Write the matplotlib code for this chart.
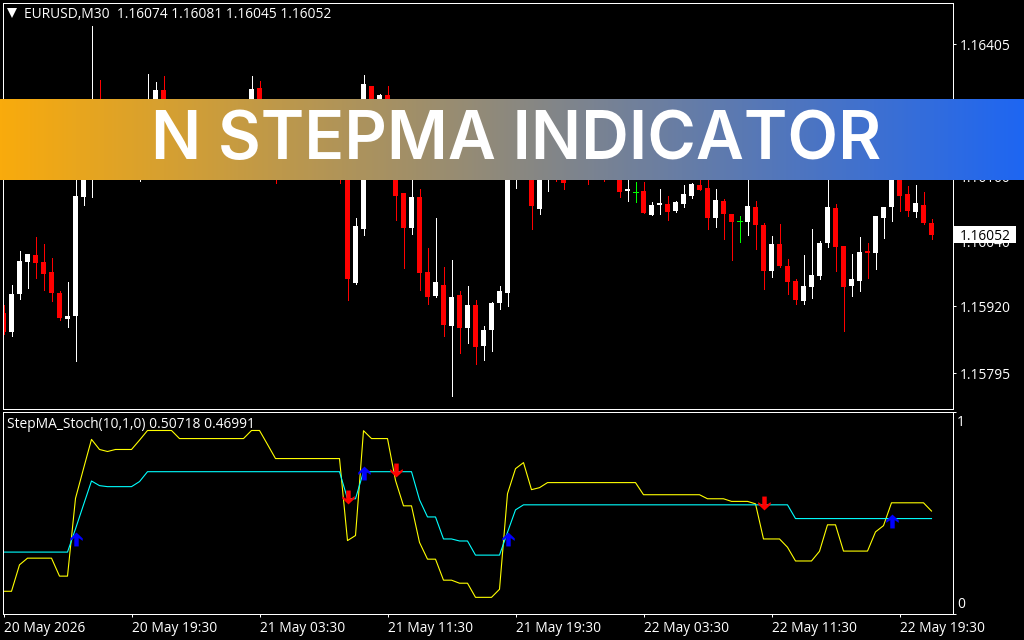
import numpy as np
import matplotlib
matplotlib.use('Agg')
import matplotlib.pyplot as plt
from matplotlib.patches import Rectangle

# bars, price in points (1.16074 = 116074)
highs = [115922, 115959, 116022, 116016, 116048, 116035, 116009, 115948, 115965, 116181,
         116228, 116439, 116339, 116287, 116274, 116265, 116283, 116298, 116350, 116335,
         116346, 116293, 116283, 116280, 116287, 116274, 116265, 116268, 116280, 116293,
         116298, 116346, 116337, 116293, 116265, 116255, 116268, 116261, 116283, 116274,
         116280, 116287, 116283, 116293, 116083, 116348, 116328, 116313, 116328, 116283,
         116129, 116209, 116137, 116028, 116083, 115992, 116005, 115948, 115957, 115931,
         115883, 115928, 115957, 116265, 116255, 116265, 116255, 116246, 116246, 116237,
         116209, 116224, 116213, 116228, 116218, 116209, 116228, 116218, 116181, 116150,
         116150, 116113, 116137, 116124, 116115, 116144, 116148, 116157, 116163, 116137,
         116118, 116091, 116087, 116172, 116115, 116074, 116050, 116072, 116007, 115970,
         116015, 116063, 116041, 116181, 116109, 116031, 116016, 116048, 116037, 116087,
         116104, 116265, 116228, 116142, 116144, 116131, 116081]
opens = [115907, 115872, 115942, 116002, 116015, 116002, 115983, 115944, 115896, 115901,
         116122, 116209, 116293, 116246, 116255, 116224, 116246, 116250, 116255, 116274,
         116320, 116268, 116228, 116243, 116261, 116218, 116213, 116246, 116228, 116243,
         116255, 116265, 116324, 116274, 116237, 116200, 116246, 116213, 116228, 116255,
         116231, 116243, 116255, 116265, 115963, 116063, 116328, 116255, 116311, 116246,
         116129, 116065, 116122, 115983, 115939, 115959, 115883, 115940, 115879, 115922,
         115846, 115876, 115926, 115944, 116172, 116209, 116228, 116100, 116181, 116218,
         116191, 116181, 116200, 116209, 116172, 116191, 116181, 116200, 116133, 116132,
         116133, 116089, 116107, 116109, 116096, 116109, 116124, 116144, 116139, 116083,
         116115, 116091, 116078, 116076, 116104, 116070, 115985, 116035, 115994, 115966,
         115929, 115955, 115976, 116037, 116102, 116031, 115957, 115966, 116022, 116018,
         116083, 116104, 116191, 116128, 116094, 116107, 116074]
closes = [115872, 115942, 116003, 116016, 116000, 115979, 115944, 115898, 115901, 116124,
          116209, 116255, 116255, 116265, 116228, 116250, 116268, 116280, 116293, 116320,
          116265, 116237, 116255, 116265, 116231, 116250, 116237, 116224, 116261, 116274,
          116283, 116322, 116268, 116237, 116181, 116231, 116209, 116237, 116265, 116218,
          116261, 116268, 116181, 115970, 116068, 116331, 116228, 116311, 116246, 116124,
          116065, 116122, 115981, 115937, 115965, 115885, 115937, 115879, 115922, 115844,
          115876, 115926, 115948, 116237, 116228, 116246, 116105, 116209, 116228, 116172,
          116148, 116209, 116172, 116168, 116200, 116168, 116209, 116131, 116137, 116132,
          116092, 116107, 116111, 116094, 116113, 116128, 116146, 116135, 116083, 116117,
          116091, 116076, 116078, 116105, 116070, 115985, 116035, 115994, 115965, 115931,
          115957, 115977, 116037, 116104, 116029, 115955, 115970, 116020, 116018, 116087,
          116104, 116209, 116124, 116096, 116111, 116074, 116052]
lows = [115868, 115865, 115933, 115953, 115972, 115950, 115929, 115894, 115881, 115818,
        116107, 116122, 116237, 116231, 116209, 116200, 116218, 116152, 116228, 116246,
        116237, 116209, 116200, 116218, 116205, 116191, 116181, 116194, 116200, 116213,
        116228, 116237, 116246, 116209, 116148, 116172, 116181, 116191, 116194, 116187,
        116200, 116209, 116148, 115931, 115961, 116052, 116191, 116228, 116209, 116079,
        115991, 116054, 115950, 115924, 115937, 115865, 115753, 115833, 115852, 115813,
        115820, 115837, 115914, 115920, 116139, 116172, 116063, 116091, 116133, 116152,
        116137, 116163, 116157, 116146, 116157, 116152, 116157, 116122, 116115, 116113,
        116092, 116089, 116091, 116079, 116094, 116104, 116120, 116135, 116063, 116066,
        116044, 116005, 116039, 116052, 116026, 115952, 115974, 115992, 115942, 115924,
        115924, 115935, 115970, 116029, 115985, 115874, 115939, 115948, 115972, 115989,
        116046, 116078, 116096, 116087, 116085, 116072, 116045]

# indicator lines, one value per bar
step_yellow = [0.110, 0.110, 0.241, 0.274, 0.274, 0.274, 0.274, 0.185, 0.185, 0.570,
               0.717, 0.862, 0.812, 0.802, 0.812, 0.812, 0.812, 0.858, 0.906, 0.906,
               0.906, 0.906, 0.866, 0.866, 0.866, 0.866, 0.866, 0.866, 0.866, 0.866,
               0.866, 0.906, 0.906, 0.837, 0.767, 0.767, 0.767, 0.767, 0.767, 0.767,
               0.767, 0.767, 0.767, 0.361, 0.386, 0.905, 0.866, 0.866, 0.866, 0.659,
               0.533, 0.533, 0.352, 0.269, 0.269, 0.165, 0.165, 0.150, 0.150, 0.080,
               0.080, 0.080, 0.120, 0.593, 0.717, 0.747, 0.613, 0.623, 0.648, 0.648,
               0.648, 0.648, 0.648, 0.648, 0.648, 0.648, 0.648, 0.648, 0.648, 0.648,
               0.588, 0.588, 0.588, 0.588, 0.588, 0.588, 0.588, 0.588, 0.568, 0.568,
               0.568, 0.555, 0.555, 0.555, 0.543, 0.369, 0.369, 0.369, 0.328, 0.260,
               0.260, 0.260, 0.308, 0.439, 0.439, 0.309, 0.309, 0.309, 0.309, 0.404,
               0.435, 0.548, 0.548, 0.548, 0.548, 0.548, 0.50718]
step_cyan = [0.304, 0.304, 0.304, 0.304, 0.304, 0.304, 0.304, 0.304, 0.304, 0.419,
             0.538, 0.656, 0.633, 0.628, 0.628, 0.628, 0.628, 0.653, 0.702, 0.702,
             0.702, 0.702, 0.702, 0.702, 0.702, 0.702, 0.702, 0.702, 0.702, 0.702,
             0.702, 0.702, 0.702, 0.702, 0.702, 0.702, 0.702, 0.702, 0.702, 0.702,
             0.702, 0.702, 0.702, 0.568, 0.568, 0.702, 0.702, 0.702, 0.702, 0.702,
             0.702, 0.702, 0.563, 0.478, 0.478, 0.369, 0.369, 0.359, 0.359, 0.289,
             0.289, 0.289, 0.289, 0.402, 0.513, 0.538, 0.538, 0.538, 0.538, 0.538,
             0.538, 0.538, 0.538, 0.538, 0.538, 0.538, 0.538, 0.538, 0.538, 0.538,
             0.538, 0.538, 0.538, 0.538, 0.538, 0.538, 0.538, 0.538, 0.538, 0.538,
             0.538, 0.538, 0.538, 0.538, 0.538, 0.538, 0.538, 0.538, 0.538, 0.46991,
             0.46991, 0.46991, 0.46991, 0.46991, 0.46991, 0.46991, 0.46991, 0.46991, 0.46991, 0.46991,
             0.46991, 0.46991, 0.46991, 0.46991, 0.46991, 0.46991, 0.46991]

up_bars = [9, 45, 63, 111]
up_vals = [0.368, 0.697, 0.371, 0.458]
down_bars = [43, 49, 95]
down_vals = [0.577, 0.709, 0.547]

price_ticks = [1.16405, 1.16283, 1.16160, 1.16040, 1.15920, 1.15795]
time_bars = [0, 16, 32, 48, 64, 80, 96, 112]
time_labels = ['20 May 2026', '20 May 19:30', '21 May 03:30', '21 May 11:30',
               '21 May 19:30', '22 May 03:30', '22 May 11:30', '22 May 19:30']
last_price = 1.16052

W, H = 1024, 640
TXT = 9.9
plt.rcParams['font.family'] = 'Open Sans'


def pane(top, bottom):
    a = fig.add_axes([2.5 / W, 1 - bottom / H, 950 / W, (bottom - top) / H], facecolor='black')
    for s in a.spines.values():
        s.set_color('white')
        s.set_linewidth(0.72)
    a.set_xlim(-0.125, 118.625)
    return a


fig = plt.figure(figsize=(W / 100, H / 100), dpi=100, facecolor='black')

ax = pane(2.5, 408.5)
ymin, ymax = 1.157301, 1.164825
ax.set_ylim(ymin, ymax)
o = np.array(opens) / 1e5
h = np.array(highs) / 1e5
l = np.array(lows) / 1e5
c = np.array(closes) / 1e5
x = np.arange(len(o))
colors = np.where(c > o, 'white', np.where(c < o, '#ff0000', '#00ff00'))
ax.vlines(x, l, h, colors=colors, linewidth=0.7, antialiased=False)
doji = c == o
body = np.abs(c - o)
ax.bar(x[~doji], body[~doji], bottom=np.minimum(o, c)[~doji], width=5.1 / 8,
       color=colors[~doji], linewidth=0, antialiased=False)
ax.hlines(c[doji], x[doji] - 2.5 / 8, x[doji] + 2.5 / 8, colors='#00ff00', linewidth=0.7, antialiased=False)
ax.yaxis.tick_right()
ax.set_yticks(price_ticks)
ax.set_yticklabels(['%.5f' % p for p in price_ticks])
ax.tick_params(axis='y', colors='white', length=2, width=0.72, pad=3, labelsize=TXT)
ax.set_xticks([])

# box with the last price, over the axis labels
px_y = (ymax - ymin) / 406
ax.add_patch(Rectangle((1 + 1.5 / 950, last_price - 8.5 * px_y), 62 / 950, 17 * px_y, fc='white', ec='none',
                       transform=ax.get_yaxis_transform(), clip_on=False, zorder=6))
ax.text(1 + 7.5 / 950, last_price, '%.5f' % last_price, color='black', fontsize=TXT, va='center_baseline', ha='left',
        transform=ax.get_yaxis_transform(), clip_on=False, zorder=7)
ax.text(22 / 950, 1 - 11.5 / 406, 'EURUSD,M30  1.16074 1.16081 1.16045 1.16052', transform=ax.transAxes,
        color='white', fontsize=TXT, va='center', ha='left')
ax.plot([9 / 950], [1 - 10.5 / 406], marker='v', ms=6.5, color='white', mew=0, transform=ax.transAxes)

ind = pane(411.5, 613.5)
ind.set_ylim(0, 1)
ind.plot(x, step_yellow, color='#ffff00', linewidth=0.8)
ind.plot(x, step_cyan, color='#00ffff', linewidth=0.8)
arrow_up = [(0, 1), (0.9, 0.15), (0.9, -0.2), (0.32, 0.2), (0.32, -1), (-0.32, -1), (-0.32, 0.2), (-0.9, -0.2),
            (-0.9, 0.15), (0, 1)]
arrow_down = [(px, -py) for px, py in arrow_up]
ind.plot(up_bars, up_vals, ls='none', marker=arrow_up, ms=10, color='#0000ff', mew=0, zorder=5)
ind.plot(down_bars, down_vals, ls='none', marker=arrow_down, ms=10, color='#ff0000', mew=0, zorder=5)
ind.yaxis.tick_right()
ind.set_yticks([0, 1])
ind.set_yticklabels([])
ind.tick_params(axis='y', colors='white', length=2, width=0.72)
ind.set_xticks(time_bars)
ind.set_xticklabels(time_labels, ha='left')
ind.tick_params(axis='x', colors='white', length=2.5, width=0.72, pad=3, labelsize=TXT)
ind.text(4.5 / 950, 1 - 12.5 / 202, 'StepMA_Stoch(10,1,0) 0.50718 0.46991', transform=ind.transAxes,
         color='white', fontsize=TXT, va='center', ha='left')
ind.text(1 + 4.5 / 950, 1 - 10.5 / 202, '1', transform=ind.transAxes, color='white', fontsize=TXT, va='center', ha='left')
ind.text(1 + 4.5 / 950, 9.5 / 202, '0', transform=ind.transAxes, color='white', fontsize=TXT, va='center', ha='left')

# title banner sits on top of the chart
ban = fig.add_axes([0, 1 - 180 / H, 1, 81 / H], zorder=10)
left = np.array([0xF9, 0xAB, 0x0C]) / 255
right = np.array([0x1E, 0x66, 0xF2]) / 255
t = np.linspace(0, 1, 512)[None, :, None]
ban.imshow(left * (1 - t) + right * t, aspect='auto', extent=(0, 1, 0, 1))
ban.axis('off')
ban.text(516 / W, 21 / 81, 'N STEPMA INDICATOR', color='white', fontsize=47.5, fontweight='semibold', family='Inter',
         ha='center', va='baseline', transform=ban.transAxes)

fig.savefig('out.png', dpi=100, facecolor='black')
